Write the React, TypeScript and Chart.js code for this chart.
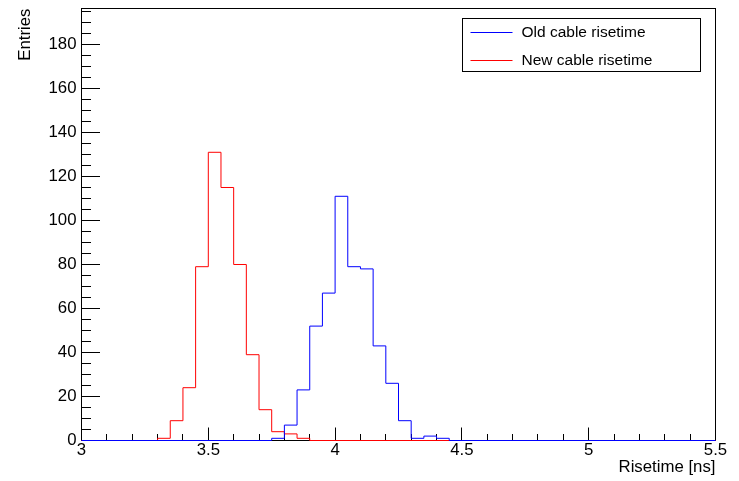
import React, { useEffect, useRef } from 'react';
import { Chart, registerables } from 'chart.js';

Chart.register(...registerables);

// ---- data (bin left edges, bin width 0.05 ns) ----
const binWidth = 0.05;
const oldEdges = [3.75, 3.8, 3.85, 3.9, 3.95, 4.0, 4.05, 4.1, 4.15, 4.2, 4.25, 4.3, 4.35, 4.4];
const oldCounts = [1, 7, 23, 52, 67, 111, 79, 78, 43, 26, 9, 1, 2, 1];
const newEdges = [3.3, 3.35, 3.4, 3.45, 3.5, 3.55, 3.6, 3.65, 3.7, 3.75, 3.8, 3.85];
const newCounts = [1, 9, 24, 79, 131, 115, 80, 39, 14, 4, 3, 1];

const seriesLabels = ['Old cable risetime', 'New cable risetime'];
const seriesColors = ['#0000ff', '#ff0000'];

const xMin = 3;
const xMax = 5.5;
const xMajorStep = 0.5;
const xMinorStep = 0.1;
const yMin = 0;
const yMax = 196.36;
const yMajorStep = 20;
const yMinorStep = 5;

const xTitle = 'Risetime [ns]';
const yTitle = 'Entries';

const FONT = '"Liberation Sans", Arial, Helvetica, sans-serif';

function histPoints(edges: number[], counts: number[]) {
  const pts: { x: number; y: number }[] = [{ x: xMin, y: 0 }];
  edges.forEach((e, i) => pts.push({ x: e, y: counts[i] }));
  pts.push({ x: edges[edges.length - 1] + binWidth, y: 0 });
  pts.push({ x: xMax, y: 0 });
  return pts;
}

function zeroPad(s: any) {
  s.paddingTop = 0;
  s.paddingBottom = 0;
  s.paddingLeft = 0;
  s.paddingRight = 0;
}

const frameTicks = {
  id: 'frameTicks',
  beforeDatasetsDraw(chart: any) {
    const { ctx, chartArea: a, scales } = chart;
    const xs = scales.x;
    const ys = scales.y;
    ctx.save();
    ctx.strokeStyle = '#000';
    ctx.lineWidth = 1;
    ctx.strokeRect(a.left, a.top, a.right - a.left, a.bottom - a.top);
    ctx.beginPath();
    const xMajLen = 13;
    const xMinLen = 6.5;
    const nx = Math.round((xMax - xMin) / xMinorStep);
    const perMajX = Math.round(xMajorStep / xMinorStep);
    for (let i = 0; i <= nx; i++) {
      const px = Math.floor(xs.getPixelForValue(xMin + i * xMinorStep)) + 0.5;
      const len = i % perMajX === 0 ? xMajLen : xMinLen;
      ctx.moveTo(px, a.bottom);
      ctx.lineTo(px, a.bottom - len);
    }
    const yMajLen = 18.5;
    const yMinLen = 9.5;
    const perMajY = Math.round(yMajorStep / yMinorStep);
    for (let i = 0; i * yMinorStep <= yMax; i++) {
      const py = Math.floor(ys.getPixelForValue(yMin + i * yMinorStep)) + 0.5;
      const len = i % perMajY === 0 ? yMajLen : yMinLen;
      ctx.moveTo(a.left, py);
      ctx.lineTo(a.left + len, py);
    }
    ctx.stroke();
    ctx.restore();
  },
};

const boxLegend = {
  id: 'boxLegend',
  afterDraw(chart: any) {
    const { ctx } = chart;
    ctx.save();
    const bx = 462.5, by = 18.5, bw = 238, bh = 53;
    ctx.fillStyle = '#fff';
    ctx.fillRect(bx, by, bw, bh);
    ctx.strokeStyle = '#000';
    ctx.lineWidth = 1;
    ctx.strokeRect(bx, by, bw, bh);
    ctx.font = `15.5px ${FONT}`;
    ctx.textBaseline = 'middle';
    ctx.textAlign = 'left';
    chart.data.datasets.forEach((ds: any, i: number) => {
      const yy = 32.5 + i * 28;
      ctx.beginPath();
      ctx.strokeStyle = ds.borderColor;
      ctx.moveTo(470.5, yy);
      ctx.lineTo(512.5, yy);
      ctx.stroke();
      ctx.fillStyle = '#000';
      ctx.fillText(ds.label, 521.5, yy);
    });
    ctx.restore();
  },
};

export default function App() {
  const ref = useRef<HTMLCanvasElement | null>(null);
  useEffect(() => {
    document.body.style.margin = '0';
    const canvas = ref.current!;
    const tickFont = { family: FONT, size: 16.8, lineHeight: 1 };
    const titleFont = { family: FONT, size: 16.8, lineHeight: 1.2 };
    const chart = new Chart(canvas, {
      type: 'line',
      data: {
        datasets: [
          {
            label: seriesLabels[0],
            data: histPoints(oldEdges, oldCounts),
            borderColor: seriesColors[0],
            borderWidth: 1,
            pointRadius: 0,
            fill: false,
            stepped: true,
            tension: 0,
            clip: 4,
          },
          {
            label: seriesLabels[1],
            data: histPoints(newEdges, newCounts),
            borderColor: seriesColors[1],
            borderWidth: 1,
            pointRadius: 0,
            fill: false,
            stepped: true,
            tension: 0,
            clip: 4,
          },
        ],
      },
      options: {
        animation: false,
        responsive: false,
        devicePixelRatio: 1,
        layout: { padding: { left: 0, top: 8.5, right: 23.5, bottom: 0 } },
        plugins: { legend: { display: false }, tooltip: { enabled: false } },
        scales: {
          x: {
            type: 'linear',
            min: xMin,
            max: xMax,
            afterFit: (s: any) => {
              s.height = 40.5;
              zeroPad(s);
            },
            ticks: {
              stepSize: xMajorStep,
              font: tickFont,
              color: '#000',
              padding: 1,
              maxRotation: 0,
              autoSkip: false,
              callback: (v: any) => String(Math.round(Number(v) * 10) / 10),
            },
            grid: { display: false, drawTicks: false },
            border: { display: false },
            title: {
              display: true,
              text: xTitle,
              align: 'end',
              color: '#000',
              font: titleFont,
              padding: { top: 0, bottom: 4 },
            },
          },
          y: {
            type: 'linear',
            min: yMin,
            max: yMax,
            afterFit: (s: any) => {
              s.width = 81.5;
              zeroPad(s);
            },
            ticks: {
              stepSize: yMajorStep,
              includeBounds: false,
              font: tickFont,
              color: '#000',
              padding: 5,
              callback: (v: any) => String(v),
            },
            grid: { display: false, drawTicks: false },
            border: { display: false },
            title: {
              display: true,
              text: yTitle,
              align: 'end',
              color: '#000',
              font: titleFont,
              padding: { top: 15, bottom: 0 },
            },
          },
        },
      },
      plugins: [frameTicks, boxLegend],
    } as any);
    return () => chart.destroy();
  }, []);
  return (
    <div style={{ width: 739, height: 481 }}>
      <canvas ref={ref} width={739} height={481} style={{ display: 'block' }} />
    </div>
  );
}
